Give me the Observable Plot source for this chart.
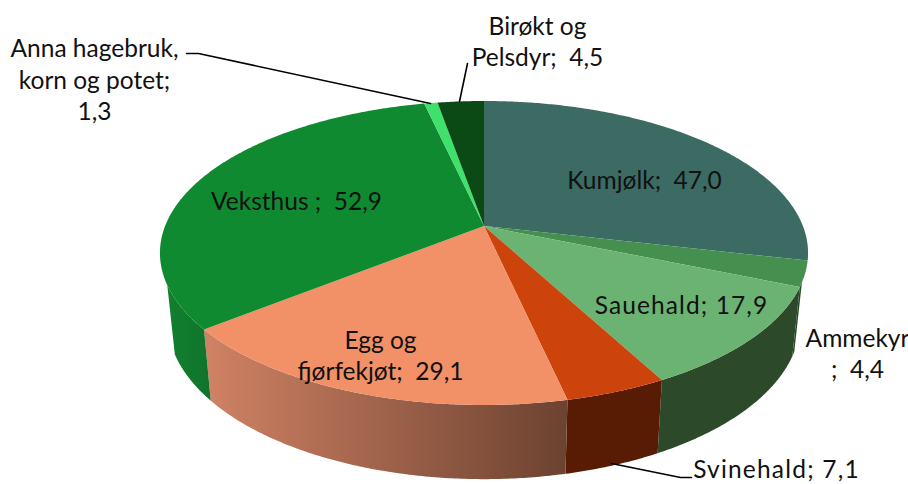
<!DOCTYPE html>
<html><head><meta charset="utf-8">
<style>html,body{margin:0;padding:0;background:#fff}svg{display:block}</style>
<script src="https://cdn.jsdelivr.net/npm/d3@7"></script>
<script src="https://cdn.jsdelivr.net/npm/@observablehq/plot@0.6"></script>
</head><body><div id="chart"></div>
<script>
const categories = ["Kumjølk","Ammekyr","Sauehald","Svinehald","Egg og fjørfekjøt","Veksthus","Anna hagebruk, korn og potet","Birøkt og Pelsdyr"];
const values = [47.0,4.4,17.9,7.1,29.1,52.9,1.3,4.5];
const labels = ["Kumjølk;  47,0","Ammekyr\n;  4,4","Sauehald; 17,9","Svinehald; 7,1","Egg og\nfjørfekjøt;  29,1","Veksthus ;  52,9","Anna hagebruk,\nkorn og potet;\n1,3","Birøkt og\nPelsdyr;  4,5"];
const topColors = ["#3b6b63","#45904f","#6bb373","#cd430c","#f29068","#108a30","#3fe06b","#0b4a14"];
const sideColors = ["#24403b","#2a4a2c","#2c4a2a","#581c04","url(#eggSide)","url(#vekstSide)","#0c6a28","#06300c"];

// Layout, separate from the data
const W = 908, H = 484;
const view = {cx:484, cy:226, A:147.2, B:318.9, k:0.1776, depth:67, shrinkX:0.976, stretchY:1.04, sideFrom:111, sideTo:248};
const labelX = [644,857,681,776,380,296,94,537];
const labelY = [178,352,303,467,354,199,78,40];
const labelTracking = [0,0,1.1,1.2,0,0,0,0];
const leaders = [
  {id:"anna", pts:[[186,53],[198,53],[430,103]]},
  {id:"birokt", pts:[[467,63],[459,101]]},
  {id:"svine", pts:[[611,463],[680,477],[691,477]]}
];

const total = d3.sum(values);
const project = (deg, lower=false) => {
  const t = deg*Math.PI/180, u = Math.sin(t), s = -Math.cos(t), w = 1-view.k*s;
  return [view.cx+(lower?view.shrinkX:1)*view.B*u/w, view.cy+(lower?view.depth:0)+(lower?view.stretchY:1)*view.A*s/w];
};
const arcs = [];
let acc = 0;
values.forEach(v => { arcs.push([acc/total*360,(acc+v)/total*360]); acc += v; });
const sweep = (a,b) => { const n = Math.max(2,Math.ceil((b-a)/0.5)); return d3.range(n+1).map(i => a+(b-a)*i/n); };

const sideMarks = arcs.map(([a,b],i) => {
  const lo = Math.max(a,view.sideFrom), hi = Math.min(b,view.sideTo);
  if (hi <= lo) return null;
  const rows = sweep(lo,hi).map(d => { const p=project(d), q=project(d,true); return {x1:p[0],y1:p[1],x2:q[0],y2:q[1]}; });
  return Plot.area(rows,{x1:"x1",y1:"y1",x2:"x2",y2:"y2",fill:sideColors[i]});
}).filter(Boolean);
const topMarks = arcs.map(([a,b],i) => {
  const rows = sweep(a,b).map(d => { const p=project(d); return {x1:view.cx,y1:view.cy,x2:p[0],y2:p[1]}; });
  return Plot.area(rows,{x1:"x1",y1:"y1",x2:"x2",y2:"y2",fill:topColors[i]});
});
const leaderRows = leaders.flatMap(l => l.pts.map(p => ({id:l.id,x:p[0],y:p[1]})));
const labelRows = labels.map((t,i) => ({t,x:labelX[i],y:labelY[i]}));

const plot = Plot.plot({
  width:W,height:H,margin:0,
  x:{axis:null,domain:[0,W],range:[0,W]},
  y:{axis:null,domain:[0,H],range:[0,H]},
  style:{background:"#fff"},
  marks:[
    ...sideMarks,
    ...topMarks,
    Plot.line(leaderRows,{x:"x",y:"y",z:"id",stroke:"#000",strokeWidth:1.6,curve:"linear"}),
    Plot.text(labelRows,{x:"x",y:"y",text:"t",fill:"#111",fontFamily:"Lato",fontSize:24.5,lineHeight:1.28,textAnchor:"middle",lineAnchor:"middle"})
  ]
});
d3.select(plot).selectAll('g[aria-label="text"] text').attr("letter-spacing",(d,i)=>labelTracking[i]);
const defs = d3.select(plot).insert("svg:defs",":first-child");
const grad = (id,c0,c1) => {
  const g = defs.append("linearGradient").attr("id",id).attr("x1",0).attr("x2",1).attr("y1",0).attr("y2",0);
  g.append("stop").attr("offset",0).attr("stop-color",c0);
  g.append("stop").attr("offset",1).attr("stop-color",c1);
};
grad("eggSide","#d08264","#6c4230");
grad("vekstSide","#127f30","#0f742b");
document.getElementById("chart").append(plot);
</script></body></html>
